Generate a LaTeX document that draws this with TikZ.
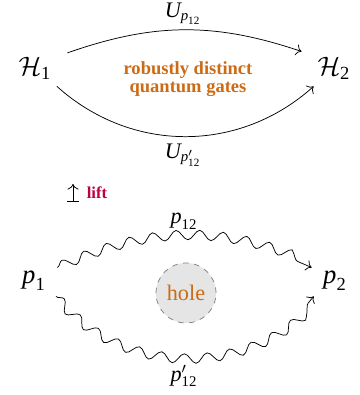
\documentclass[tikz,border=0pt]{standalone}
\usepackage{amsmath}
\usepackage{fontspec}
\setmainfont{Liberation Serif}
\usetikzlibrary{decorations.pathmorphing,arrows.meta}
\definecolor{gateorange}{rgb}{0.80,0.42,0.08}
\definecolor{liftcol}{rgb}{0.75,0,0.25}
\newcommand{\tI}[1]{\text{\itshape #1}}
\newcommand{\tR}[1]{\text{\upshape #1}}
\begin{document}
\begin{tikzpicture}[x=0.54pt,y=-0.54pt,
  space/.style={font=\Large, inner sep=0pt},
  lbl/.style={font=\large, inner sep=1pt},
  wavy/.style={decorate, decoration={snake, amplitude=2.6pt, segment length=12.6pt, post length=2.5pt}},
  arr/.style={-{To[length=3pt,width=6pt]}}]
\useasboundingbox (0,0) rectangle (360,395);
% top: quantum gates
\node[space, minimum width=34.6pt, minimum height=19.4pt] (H1) at (35,68) {$\mathcal{H}_{\tR{1}}$};
\node[space, minimum width=34.6pt, minimum height=19.4pt] (H2) at (334,68) {$\mathcal{H}_{\tR{2}}$};
\draw[arr] (H1.25) to[bend left=19] (H2.153);
\draw[arr] (H1.-40) to[bend right=42] (H2.-138);
\node[lbl] (Ut) at (183,14) {$\tI{U}_{\tI{p}_{\tR{12}}}$};
\node[lbl] (Ub) at (183,155) {$\tI{U}_{\tI{p}'_{\tR{12}}}$};
\node[align=center, text=gateorange, font=\bfseries\fontsize{10}{9.8}\selectfont] (gates) at (188,79) {robustly distinct\\quantum gates};
% lift
\coordinate (liftb) at (73,202);
\coordinate (liftt) at (73,184);
\draw[{Bar[width=6pt]}-{To[length=3pt,width=6pt]}] (liftb) -- (liftt);
\node[text=liftcol, font=\bfseries\small, inner sep=0pt] (lift) at (97,193) {lift};
% bottom: paths
\node[space, minimum width=24.8pt, minimum height=16.2pt] (p1) at (34,281) {$\tI{p}_{\tR{1}}$};
\node[space, minimum width=24.8pt, minimum height=16.2pt] (p2) at (335,281) {$\tI{p}_{\tR{2}}$};
\node[circle, draw=gray, dashed, fill=gray!20, minimum size=32.4pt, inner sep=0pt, text=gateorange, font=\large] (hole) at (186,293) {hole};
\draw[arr, wavy] (p1.30) to[bend left=24] (p2.150);
\draw[arr, wavy] (p1.-35) to[bend right=50] (p2.-144);
\node[lbl] (pt) at (184,221) {$\tI{p}_{\tR{12}}$};
\node[lbl] (pb) at (184,376) {$\tI{p}'_{\tR{12}}$};
\end{tikzpicture}
\end{document}
